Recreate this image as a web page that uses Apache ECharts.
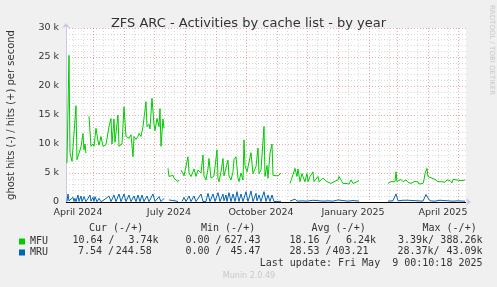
<!DOCTYPE html>
<html><head><meta charset="utf-8">
<script src="https://cdn.jsdelivr.net/npm/echarts@6/dist/echarts.min.js"></script>
<style>html,body{margin:0;padding:0;background:#f0f0f0}#c{width:497px;height:287px}</style>
</head><body><div id="c"></div>
<script>
// ---- data (days counted from 2024-04-01) ----
const mfuDays = [4,6,7,9,11,13,14,16,18,20,21,22,23,24,26,28,30,31,33,35,36,38,40,41,43,45,46,48,49,51,52,55,56,59,61,63,65,66,68,70,71,73,75,76,78,80,81,83,84,86,87,89,91,92,94,96,97,98,100,101,103,
105,106,108,110,111,113,115,116,117,118,120,121,123,125,126,128,130,131,133,135,136,138,140,141,143,145,146,148,150,151,154,155,156,158,160,161,163,165,166,168,170,171,173,175,176,178,180,181,182,184,186,188,190,191,193,195,196,198,200,201,202,204,205,207,209,210,212,215,216,218,222,
227,230,232,234,235,237,239,240,242,244,245,247,249,250,251,253,255,256,258,260,261,264,265,266,268,270,271,273,275,276,278,280,281,283,285,286,288,290,291,293,295,296,310,
325,326,328,330,332,333,334,336,338,340,341,343,345,346,348,350,351,353,355,356,358,360,361,362,364,365,367,369,370,372,374,375,377,379,380,382,384,385,387,389,390,392,394,395,397,399,400,402];
const mfuValues = [6700,25300,8500,7000,7200,16600,7300,7300,9500,11800,9000,10000,8400,null,14800,9600,10000,9600,12700,10500,9800,11300,9600,9800,9900,10000,13000,14400,10000,14300,10300,15000,9600,10000,16400,11300,11600,11000,11600,7800,11300,10800,11300,11800,11300,13000,13000,17300,13000,13400,12600,17900,13400,12300,14400,13000,16100,9600,14300,12700,null,
5800,4400,4500,4600,4100,4400,3500,3800,null,5500,5200,4500,4500,7800,5000,4400,5200,5700,4400,5500,5200,5000,8100,4500,3800,5700,7500,4100,3800,4500,9000,4100,3500,5200,7500,4500,4400,7200,4500,3800,5200,7300,7800,4100,3500,5000,3800,10700,6300,5200,4900,8500,4900,4900,6100,9300,4900,5500,5200,13000,4400,6300,4100,8400,10000,4600,4700,4500,4700,5000,null,
3200,4700,5800,4400,5700,3500,4900,4400,3500,4900,3500,4400,4600,5200,3500,3700,4400,3500,3400,4100,3800,3500,3200,3800,3200,2900,3500,3200,3800,4400,3800,3200,2900,3200,2900,3100,3800,3200,3500,3400,3700,3700,null,
3200,3500,3500,3800,3500,5200,3500,3800,3900,3500,3300,3800,3400,3700,3200,3500,3500,3200,3500,3100,3200,3200,3800,4900,5800,4400,4700,4100,4400,3900,4100,3500,3800,3500,3700,3400,3800,3500,3700,3300,3900,3600,3800,4000,3700,3900,3700,3800];

const mruDays = [4,5,6,8,10,11,12,13,15,16,18,19,21,23,25,27,28,30,31,32,34,36,38,41,43,46,48,51,53,56,58,61,63,66,68,71,73,75,77,79,81,84,86,90,92,96,98,101,103,
106,108,113,115,117,119,121,123,126,128,131,133,135,138,140,143,145,147,150,152,155,157,160,161,163,164,166,168,170,172,174,176,178,180,183,185,188,190,193,194,196,198,201,203,205,207,209,211,213,215,218,222,
227,232,234,240,244,250,252,260,265,270,275,277,285,290,292,296,310,
325,330,333,335,340,342,345,347,355,360,363,365,367,372,377,379,385,390,395,400,402];
const mruValues = [100,1380,200,50,800,100,630,50,1200,100,1030,80,920,50,100,1200,150,800,100,920,50,630,50,350,50,1030,80,1200,60,1380,60,1380,80,1200,60,1030,60,1200,60,1200,60,1030,60,1380,80,920,60,630,null,
350,100,170,80,null,80,800,80,1030,80,1030,80,100,1380,80,100,1490,80,1380,80,1610,80,1380,200,1200,80,1610,80,1380,80,1780,80,1380,80,1780,80,1900,80,1490,200,1200,80,1780,80,1200,80,1200,80,350,100,120,null,
150,500,150,200,150,300,120,150,200,150,350,120,150,250,120,150,null,
150,200,1400,200,300,150,300,150,200,150,1300,700,200,150,300,150,200,150,200,150,150];

const xLabelDays = [15, 106, 198, 290, 380];
const xLabels = ['April 2024', 'July 2024', 'October 2024', 'January 2025', 'April 2025'];
const monthStartDays = [30,61,91,122,153,183,214,244,275,306,334,365,395];
const yTickLabels = ['0', '5 k', '10 k', '15 k', '20 k', '25 k', '30 k'];
const seriesNames = ['MFU', 'MRU'];
const statHeaders = ['Cur (-/+)', 'Min (-/+)', 'Avg (-/+)', 'Max (-/+)'];
const mfuStats = [['10.64 /', '3.74k'], ['0.00 /', '627.43'], ['18.16 /', '6.24k'], ['3.39k/', '388.26k']];
const mruStats = [['7.54 /', '244.58'], ['0.00 /', '45.47'], ['28.53 /', '403.21'], ['28.37k/', '43.09k']];
const lastUpdate = 'Last update: Fri May  9 00:10:18 2025';

// ---- build ----
const minorDays = [];
[0, ...monthStartDays].forEach(m => { minorDays.push(m + 10, m + 20); });
const xMin = 3 + 10 / 1440;   // 2024-04-04 00:10
const xMax = 403 + 10 / 1440; // 2025-05-09 00:10

const chart = echarts.init(document.getElementById('c'), null, {renderer: 'canvas'});
const MONO = "'DejaVu Sans Mono', monospace";
const SANS = "'DejaVu Sans', sans-serif";

const colLeft = [72.5, 185.5, 289.5, 398];
const colRightMfu = [158.5, 260.5, 376, 482.5];
const colRightMru = [151.8, 260.5, 368.5, 482.5];
const colLeftMru = [78, 185.5, 289.5, 397.5];
const headLeft = [89, 201, 311.5, 422.5];

const g = [];
function t(x, y, s, align, color, size, font) {
  g.push({type: 'text', x: x, y: y, silent: true,
    style: {text: s, align: align, verticalAlign: 'middle', fill: color, fontSize: size, fontFamily: font}});
}
statHeaders.forEach((h, i) => t(headLeft[i], 228, h, 'left', '#333', 10, MONO));
mfuStats.forEach((s, i) => { t(colLeft[i], 240, s[0], 'left', '#333', 10, MONO); t(colRightMfu[i], 240, s[1], 'right', '#333', 10, MONO); });
mruStats.forEach((s, i) => { t(colLeftMru[i], 251.5, s[0], 'left', '#333', 10, MONO); t(colRightMru[i], 251.5, s[1], 'right', '#333', 10, MONO); });
t(482.5, 263.5, lastUpdate, 'right', '#333', 10, MONO);
t(249, 276, 'Munin 2.0.49', 'center', '#c8c8c8', 8, SANS);
g.push({type: 'text', x: 491.5, y: 5, rotation: -Math.PI / 2, silent: true,
  style: {text: 'RRDTOOL / TOBI OETIKER', align: 'left', verticalAlign: 'middle', fill: '#c8c8c8', fontSize: 7, fontFamily: SANS}});

chart.setOption({
  backgroundColor: '#f0f0f0',
  animation: false,
  title: {text: 'ZFS ARC - Activities by cache list - by year', left: 'center', top: 12,
    textStyle: {fontFamily: SANS, fontSize: 13, fontWeight: 'normal', color: '#333'}},
  legend: {data: seriesNames, orient: 'vertical', left: 14, top: 231, itemWidth: 6, itemHeight: 6, itemGap: 0,
    icon: 'rect', textStyle: {fontFamily: MONO, fontSize: 10, color: '#333', lineHeight: 11}},
  grid: {left: 66, right: 31, top: 28, bottom: 85, show: true, backgroundColor: '#ffffff', borderWidth: 0,
    containLabel: false, outerBoundsMode: 'none'},
  xAxis: [{
    type: 'value', min: xMin, max: xMax,
    axisLine: {show: true, onZero: false, lineStyle: {color: '#c8c8e8'}, symbol: ['none', 'arrow'], symbolSize: [6, 5], symbolOffset: [0, 5]},
    axisTick: {show: false, customValues: monthStartDays},
    axisLabel: {customValues: xLabelDays, formatter: v => xLabels[xLabelDays.indexOf(v)] || '',
      fontFamily: SANS, fontSize: 9.5, color: '#333', margin: 6},
    splitLine: {show: true, lineStyle: {color: 'rgba(230,80,80,0.5)', type: [1, 2]}}
  }, {
    type: 'value', min: xMin, max: xMax, position: 'bottom',
    axisLine: {show: false}, axisLabel: {show: false},
    axisTick: {show: false, customValues: minorDays},
    splitLine: {show: true, lineStyle: {color: '#dadada', type: [1, 2]}}
  }],
  yAxis: {
    type: 'value', min: 0, max: 30000, interval: 5000,
    name: 'ghost hits (-) / hits (+) per second', nameLocation: 'middle', nameGap: 50,
    nameTextStyle: {fontFamily: SANS, fontSize: 10, color: '#333'},
    axisLine: {show: true, lineStyle: {color: '#c8c8e8'}, symbol: ['none', 'arrow'], symbolSize: [6, 5], symbolOffset: [0, 5]},
    axisTick: {show: false},
    axisLabel: {formatter: v => yTickLabels[Math.round(v / 5000)], fontFamily: SANS, fontSize: 9.5, color: '#333', margin: 7},
    splitLine: {lineStyle: {color: 'rgba(230,80,80,0.5)', type: [1, 2]}},
    minorTick: {show: false, splitNumber: 5},
    minorSplitLine: {show: true, lineStyle: {color: '#dadada', type: [1, 2]}}
  },
  series: [{
    name: 'MFU', type: 'line', xAxisIndex: 0, showSymbol: false, symbol: 'none', connectNulls: false,
    lineStyle: {width: 1, color: '#00cc00'}, itemStyle: {color: '#00cc00'},
    data: mfuDays.map((d, i) => [d, mfuValues[i]])
  }, {
    name: 'MRU', type: 'line', xAxisIndex: 0, showSymbol: false, symbol: 'none', connectNulls: false,
    lineStyle: {width: 1, color: '#0066b3'}, itemStyle: {color: '#0066b3'},
    data: mruDays.map((d, i) => [d, mruValues[i]]),
    markLine: {silent: true, symbol: ['none', 'none'], label: {show: false},
      lineStyle: {color: '#000', width: 1, type: 'solid'}, data: [{yAxis: 0}]}
  }],
  graphic: g
});
</script></body></html>
